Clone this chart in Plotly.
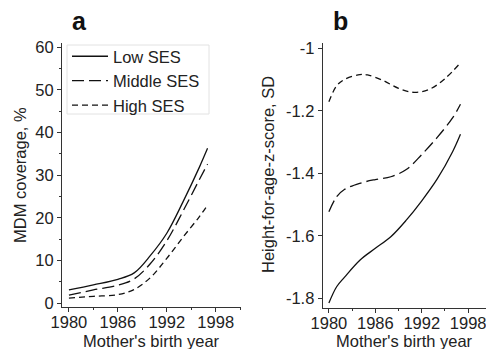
import plotly.graph_objects as go

# ---------------- data ----------------
years_a = [1980, 1983, 1986, 1988, 1990, 1992, 1994, 1996, 1997]
low_a = [3.1, 4.3, 5.6, 7.1, 11.2, 16.4, 23.8, 31.9, 36.3]
mid_a = [1.9, 3.1, 4.2, 5.7, 9.3, 14.6, 21.6, 29.0, 32.6]
high_a = [1.2, 1.6, 2.0, 3.2, 6.0, 10.5, 15.5, 20.3, 23.0]

years_b_low = [1980, 1981, 1982, 1984, 1986, 1988, 1990, 1992, 1994, 1996, 1997]
low_b = [-1.815, -1.763, -1.733, -1.678, -1.64, -1.603, -1.55, -1.488, -1.418, -1.33, -1.275]
years_b_mid = [1980, 1981, 1982, 1984, 1986, 1988, 1990, 1992, 1994, 1996, 1997]
mid_b = [-1.523, -1.475, -1.452, -1.432, -1.42, -1.411, -1.388, -1.34, -1.285, -1.222, -1.179]
years_b_high = [1980, 1981, 1982, 1984, 1985, 1987, 1989, 1991, 1993, 1995, 1997]
high_b = [-1.171, -1.12, -1.10, -1.084, -1.085, -1.103, -1.128, -1.141, -1.131, -1.097, -1.046]

series_names = ["Low SES", "Middle SES", "High SES"]
x_tickvals = [1980, 1986, 1992, 1998]
x_ticktext = ["1980", "1986", "1992", "1998"]
ya_tickvals = [0, 10, 20, 30, 40, 50, 60]
ya_ticktext = ["0", "10", "20", "30", "40", "50", "60"]
yb_tickvals = [-1.8, -1.6, -1.4, -1.2, -1.0]
yb_ticktext = ["-1.8", "-1.6", "-1.4", "-1.2", "-1"]

# ---------------- styling ----------------
W, H = 486, 349
FONT = "Liberation Sans, Arial, sans-serif"
FS = 16.5
TXT = "#222222"
AX = "#333333"
dashes = ["solid", "12px,5px", "6px,4px"]

fig = go.Figure()

for name, y, d in zip(series_names, [low_a, mid_a, high_a], dashes):
    fig.add_trace(go.Scatter(x=years_a, y=y, mode="lines", name=name,
                             line=dict(color="#111111", width=1.3, dash=d, shape="spline"),
                             xaxis="x", yaxis="y", showlegend=True))

for name, xs, y, d in zip(series_names, [years_b_low, years_b_mid, years_b_high],
                          [low_b, mid_b, high_b], dashes):
    fig.add_trace(go.Scatter(x=xs, y=y, mode="lines", name=name,
                             line=dict(color="#111111", width=1.3, dash=d, shape="spline"),
                             xaxis="x2", yaxis="y2", showlegend=False))

def px_x(p):
    return p / W

def px_y(p):
    return (H - p) / H

common_axis = dict(showgrid=False, zeroline=False, showline=True, linecolor=AX, linewidth=1,
                   ticks="outside", ticklen=4, tickcolor=AX, tickwidth=1,
                   tickfont=dict(family=FONT, size=FS, color=TXT), mirror=False,
                   automargin=False, ticklabeloverflow="allow")

fig.update_layout(
    template="none",
    width=W, height=H,
    margin=dict(l=0, r=0, t=0, b=0, pad=0),
    paper_bgcolor="white", plot_bgcolor="white",
    font=dict(family=FONT, size=FS, color=TXT),
    xaxis=dict(domain=[px_x(62), px_x(241)], range=[1979.15, 2001.1], anchor="y",
               tickmode="array", tickvals=x_tickvals, ticktext=x_ticktext,
               minor=dict(dtick=3, tick0=1980, ticks="outside", ticklen=2, tickcolor=AX),
               ticklabelstandoff=-4, **common_axis),
    yaxis=dict(domain=[px_y(307), px_y(43)], range=[-0.9, 61], anchor="x",
               tickmode="array", tickvals=ya_tickvals, ticktext=ya_ticktext,
               minor=dict(dtick=5, tick0=0, ticks="outside", ticklen=2, tickcolor=AX),
               **common_axis),
    xaxis2=dict(domain=[px_x(322.7), 1.0], range=[1979.2, 2000.3], anchor="y2",
                tickmode="array", tickvals=x_tickvals, ticktext=x_ticktext,
                minor=dict(dtick=3, tick0=1980, ticks="outside", ticklen=2, tickcolor=AX),
                ticklabelstandoff=-4, **common_axis),
    yaxis2=dict(domain=[px_y(308.3), px_y(42.7)], range=[-1.832, -0.982], anchor="x2",
                tickmode="array", tickvals=yb_tickvals, ticktext=yb_ticktext,
                **common_axis),
    legend=dict(x=px_x(67), y=px_y(39), xanchor="left", yanchor="top",
                bgcolor="rgba(0,0,0,0)", borderwidth=0,
                font=dict(family=FONT, size=FS, color=TXT),
                itemwidth=36, tracegroupgap=0),
    showlegend=True,
    shapes=[dict(type="rect", xref="paper", yref="paper",
                 x0=px_x(67), x1=px_x(209), y0=px_y(114), y1=px_y(45),
                 line=dict(color="#e2e2e2", width=1), fillcolor="white", layer="below")],
)

annotations = [
    dict(text="<b>a</b>", x=px_x(79), y=px_y(21), xref="paper", yref="paper",
         showarrow=False, font=dict(family=FONT, size=25, color="#111111"),
         xanchor="center", yanchor="middle"),
    dict(text="<b>b</b>", x=px_x(340), y=px_y(21), xref="paper", yref="paper",
         showarrow=False, font=dict(family=FONT, size=25, color="#111111"),
         xanchor="center", yanchor="middle"),
    dict(text="Mother's birth year", x=px_x(151), y=px_y(340.5), xref="paper", yref="paper",
         showarrow=False, font=dict(family=FONT, size=FS, color=TXT),
         xanchor="center", yanchor="middle"),
    dict(text="Mother's birth year", x=px_x(404), y=px_y(340.5), xref="paper", yref="paper",
         showarrow=False, font=dict(family=FONT, size=FS, color=TXT),
         xanchor="center", yanchor="middle"),
    dict(text="MDM coverage, %", x=px_x(20), y=px_y(175), xref="paper", yref="paper",
         showarrow=False, textangle=-90, font=dict(family=FONT, size=FS, color=TXT),
         xanchor="center", yanchor="middle"),
    dict(text="Height-for-age-z-score, SD", x=px_x(268), y=px_y(175), xref="paper", yref="paper",
         showarrow=False, textangle=-90, font=dict(family=FONT, size=FS, color=TXT),
         xanchor="center", yanchor="middle"),
]
fig.update_layout(annotations=annotations)

fig.write_html("out.html")
